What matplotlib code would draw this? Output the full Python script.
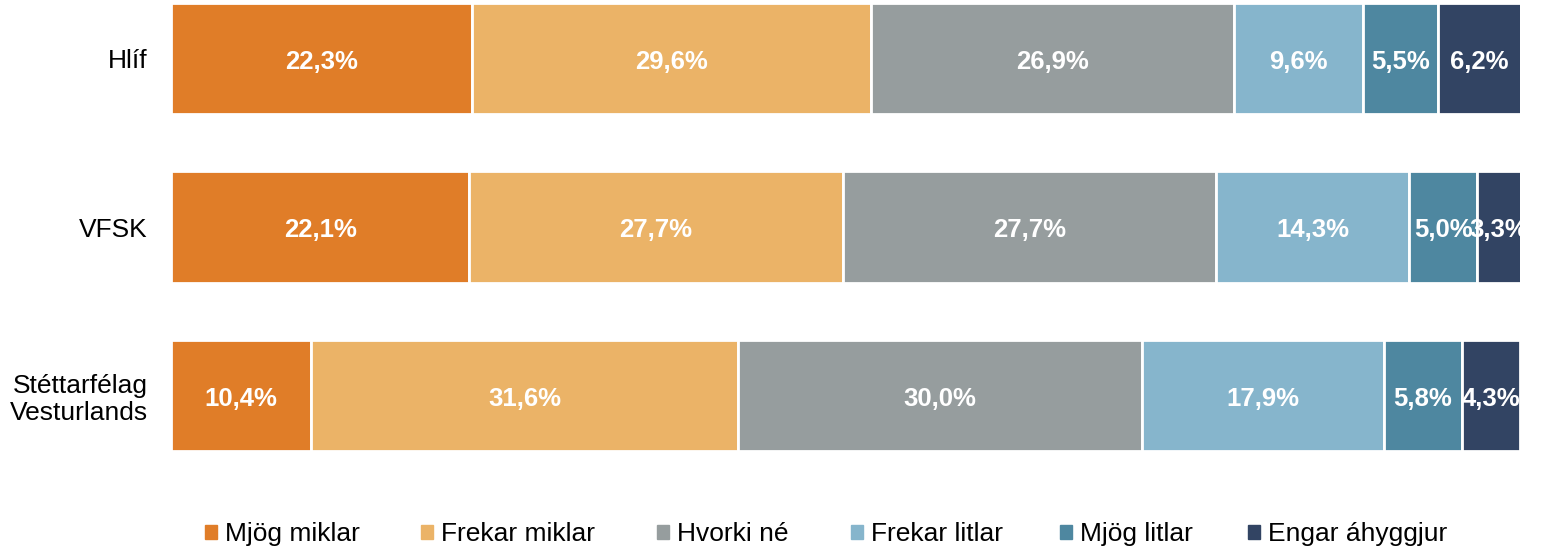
import matplotlib
matplotlib.use("Agg")
import matplotlib.pyplot as plt
from matplotlib.patches import Patch
import numpy as np

plt.rcParams["font.family"] = ["Liberation Sans", "DejaVu Sans"]

# data
groups = ["Hlíf", "VFSK", "Stéttarfélag\nVesturlands"]
categories = ["Mjög miklar", "Frekar miklar", "Hvorki né", "Frekar litlar", "Mjög litlar", "Engar áhyggjur"]
hlif = [22.3, 29.6, 26.9, 9.6, 5.5, 6.2]
vfsk = [22.1, 27.7, 27.7, 14.3, 5.0, 3.3]
vesturlands = [10.4, 31.6, 30.0, 17.9, 5.8, 4.3]
colors = ["#E07D28", "#EBB367", "#969D9E", "#86B5CC", "#4E87A0", "#324463"]

values = np.array([hlif, vfsk, vesturlands])
ypos = np.arange(len(groups))

fig = plt.figure(figsize=(15.42, 5.49), dpi=100)
ax = fig.add_axes([0.1110, 0.178, 0.8747, 0.817])

left = np.zeros(len(groups))
for i, cat in enumerate(categories):
    ax.barh(ypos, values[:, i], left=left, height=0.66, color=colors[i],
            edgecolor="white", linewidth=2, label=cat)
    for y, l, v in zip(ypos, left, values[:, i]):
        ax.text(l + v / 2, y + 0.02, f"{v:.1f}%".replace(".", ","), ha="center", va="center",
                color="white", fontsize=18.5, fontweight="bold")
    left += values[:, i]

ax.set_xlim(0, 100)
ax.set_ylim(2.33, -0.33)
ax.set_yticks(ypos)
ax.set_yticklabels(groups, fontsize=19, linespacing=1.15)
ax.tick_params(axis="y", length=0, pad=17)
ax.set_xticks([])
for s in ax.spines.values():
    s.set_visible(False)

# legend entries placed one by one, as in the original
leg_x = [205, 421, 657, 851, 1060, 1248]
for cat, col, x in zip(categories, colors, leg_x):
    fig.legend([Patch(color=col)], [cat], loc="center left",
               bbox_to_anchor=(x / 1542, 1 - 534 / 549), frameon=False,
               fontsize=19, handlelength=0.45, handleheight=0.45,
               handletextpad=0.3, borderpad=0, borderaxespad=0)

fig.savefig("out.png", dpi=100)
